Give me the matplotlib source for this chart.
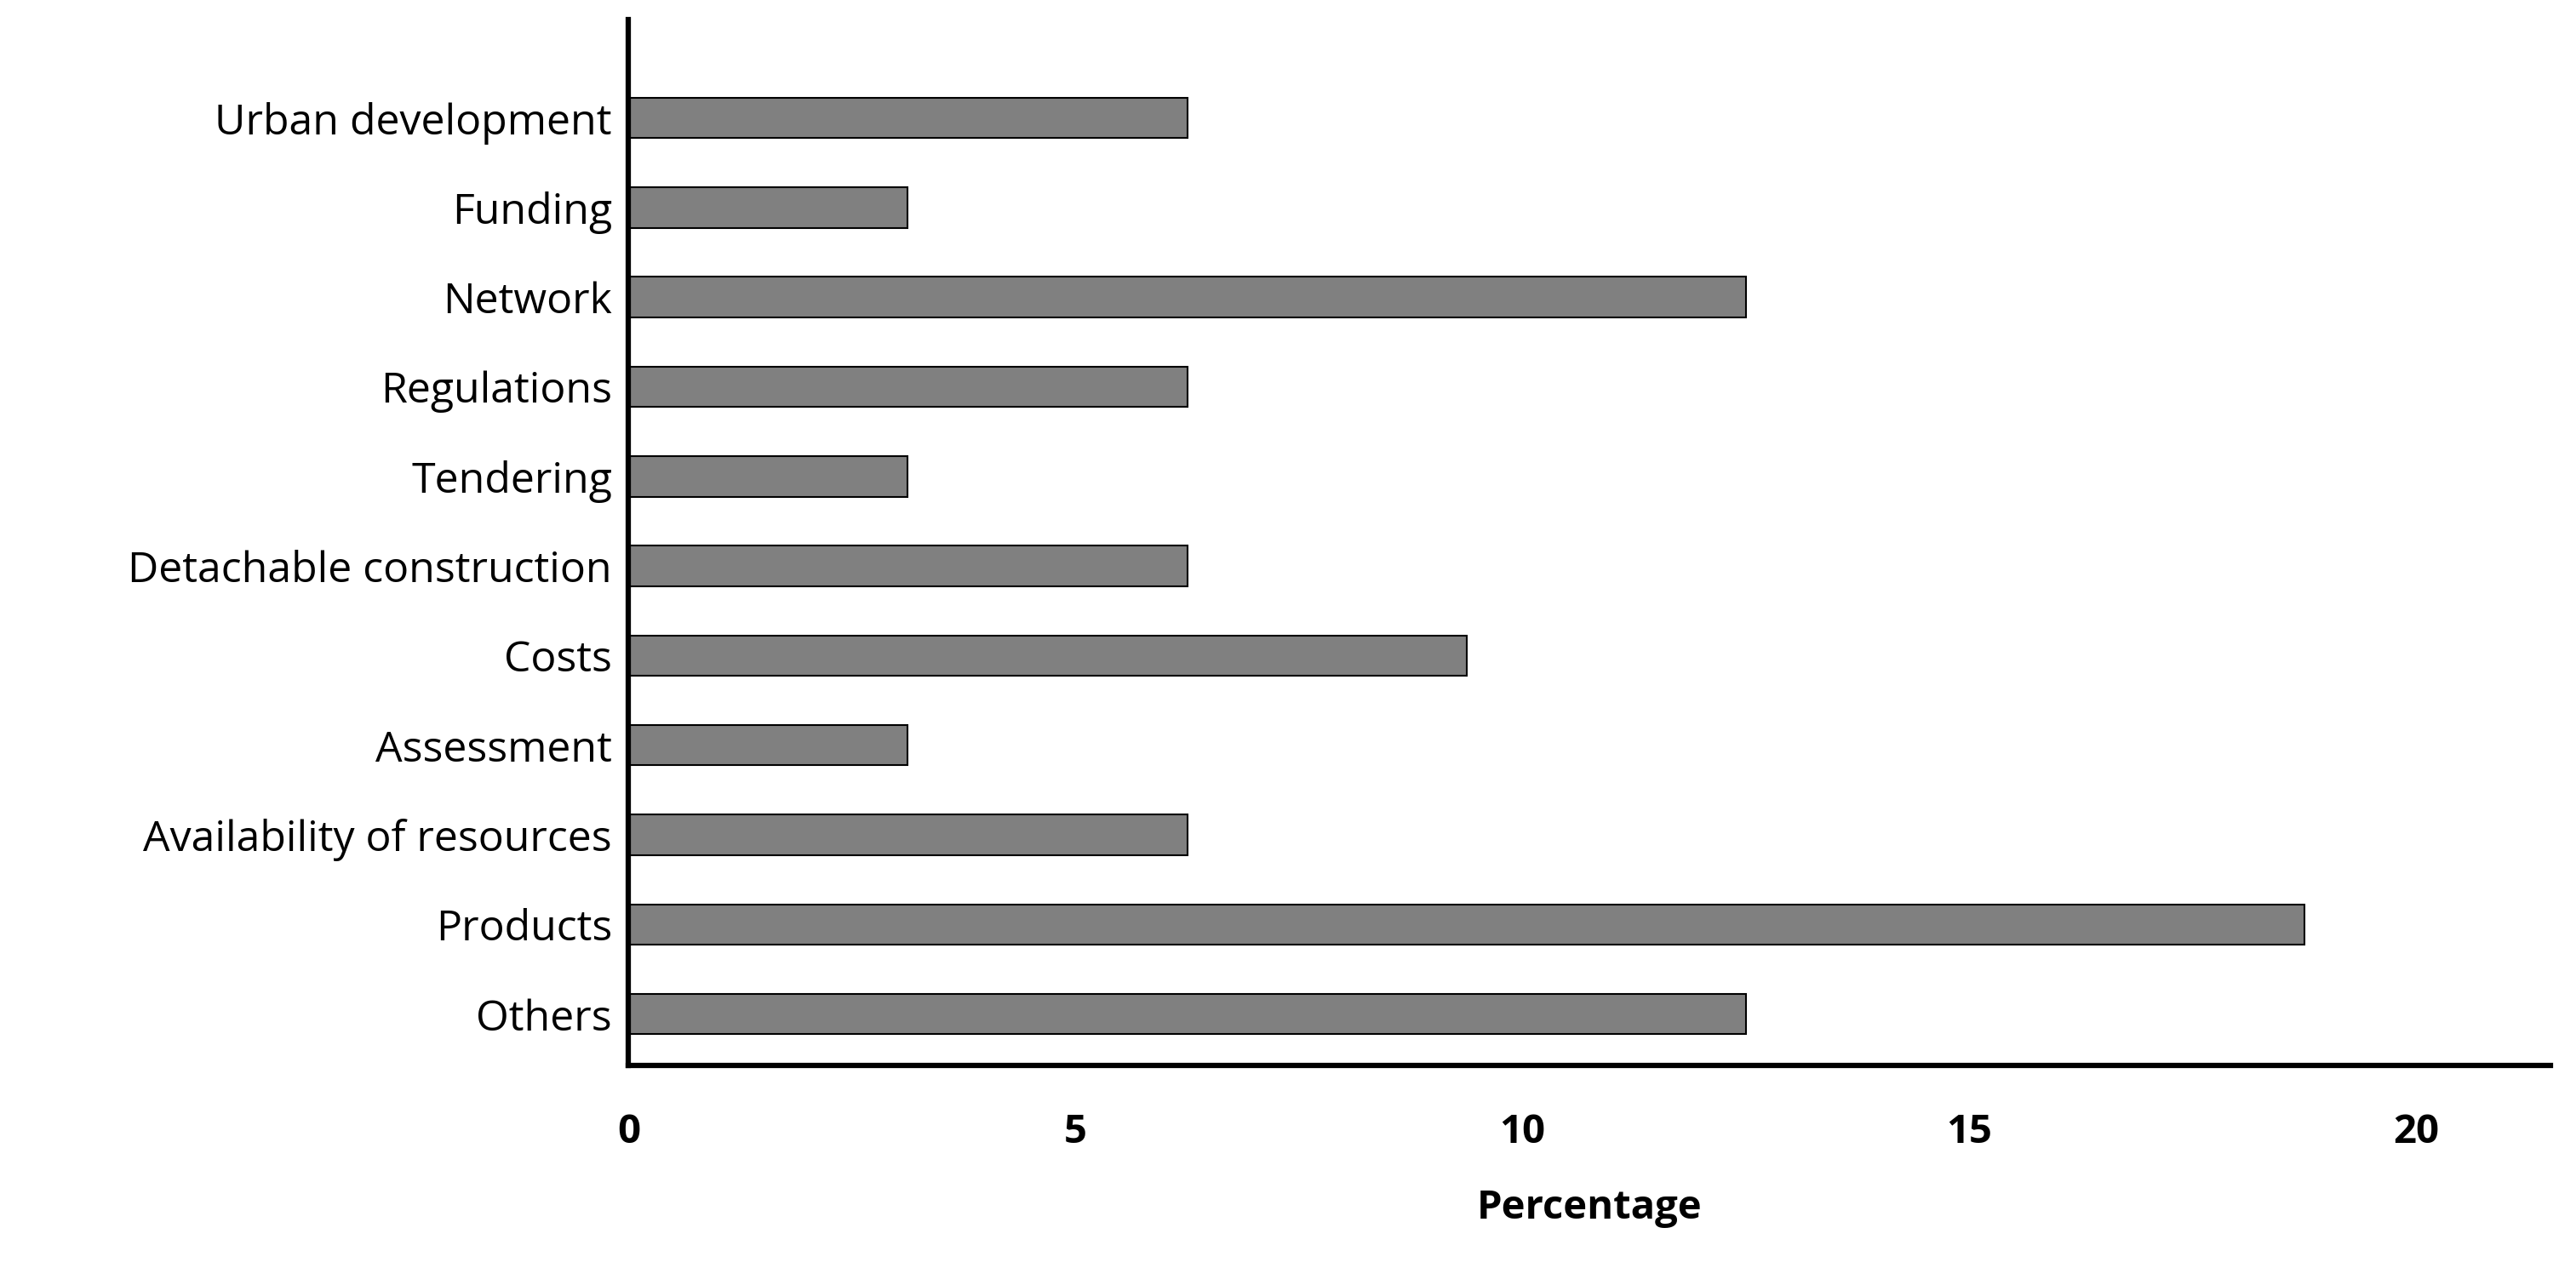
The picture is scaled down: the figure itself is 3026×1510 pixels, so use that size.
import matplotlib.pyplot as plt

# Dados
categories = ['Others', 'Products', 'Availability of resources', 'Assessment', 'Costs',
              'Detachable construction', 'Tendering', 'Regulations', 'Network',
              'Funding', 'Urban development']
values = [12.5, 18.75, 6.25, 3.125, 9.375, 6.25, 3.125, 6.25, 12.5, 3.125, 6.25]
xticks = [0, 5, 10, 15, 20]

plt.rcParams['font.family'] = ['Open Sans', 'DejaVu Sans']

fig = plt.figure(figsize=(30.26, 15.10), dpi=100)
ax = fig.add_axes([0.244, 0.171, 0.746, 0.814])

ax.barh(range(len(categories)), values, height=0.45, color='#808080',
        edgecolor='black', linewidth=1.5)

ax.set_xlim(0, 21.5)
ax.set_ylim(-0.57, 11.1)
ax.set_yticks(range(len(categories)))
ax.set_yticklabels(categories, fontsize=36)
ax.set_xticks(xticks)
ax.set_xticklabels([str(t) for t in xticks], fontsize=34, fontweight='bold')
ax.tick_params(length=0, pad=14)
ax.tick_params(axis='x', pad=40)

for s in ['top', 'right']:
    ax.spines[s].set_visible(False)
for s in ['left', 'bottom']:
    ax.spines[s].set_linewidth(4.5)

ax.set_xlabel('Percentage', fontsize=34, fontweight='bold', labelpad=30)

plt.savefig('out.png', dpi=100)
